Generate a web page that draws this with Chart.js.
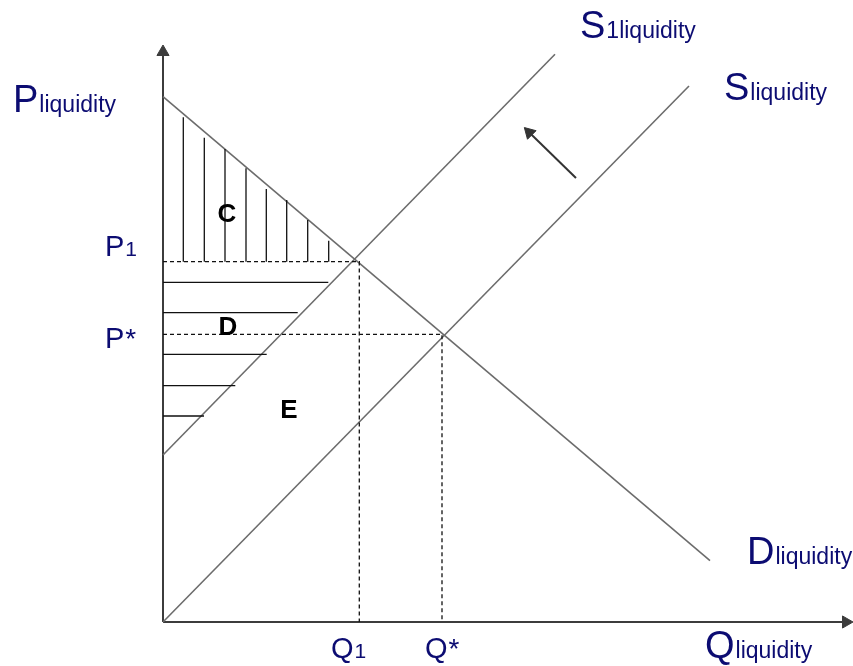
<!DOCTYPE html>
<html>
<head>
<meta charset="utf-8">
<script src="https://cdn.jsdelivr.net/npm/chart.js@4.4.1/dist/chart.umd.min.js"></script>
<style>
  html, body { margin: 0; padding: 0; background: #ffffff; }
  #liquidityChart { display: block; }
</style>
</head>
<body>
<canvas id="liquidityChart" width="853" height="666"></canvas>
<script>
// quantity (x) / price (y) in chart units
var demandQ  = [0, 547];
var demandP  = [525.3, 61.3];
var supplyQ  = [0, 526];
var supplyP  = [0, 536];
var supply1Q = [0, 392];
var supply1P = [167, 567.7];

// equilibria: [Q1, Q*] and [P1, P*]
var eqQ = [196.3, 279];
var eqP = [360.3, 287.7];

// hatching of area C (vertical strokes) and area D (horizontal strokes)
var hatchCX   = [20.3, 41.3, 62, 83, 103.3, 123.7, 144.7, 165.7];
var hatchCTop = [504.7, 484.3, 473, 453.7, 433, 422, 402, 381.3];
var hatchDY   = [339.7, 309.3, 267.7, 236.3, 206];
var hatchDEnd = [165.3, 134.7, 103.7, 72.3, 41];

// shift arrow (tail -> head) and axis ends
var shiftQ = [413, 366.3];
var shiftP = [444, 489.5];
var axisQMax = 683;
var axisPMax = 570;

// labels: main letter, subscript, anchor in chart units
var curveLabels = [
	{ main: 'P', sub: 'liquidity',  q: -150, p: 510 },
	{ main: 'S', sub: '1liquidity', q: 417,  p: 584 },
	{ main: 'S', sub: 'liquidity',  q: 561,  p: 522 },
	{ main: 'D', sub: 'liquidity',  q: 584,  p: 58 },
	{ main: 'Q', sub: 'liquidity',  q: 542,  p: -36 }
];
var tickLabels = [
	{ main: 'P', sub: '1', q: -58, p: 366 },
	{ main: 'P', sub: '*', q: -58, p: 274 },
	{ main: 'Q', sub: '1', q: 168, p: -36 },
	{ main: 'Q', sub: '*', q: 262, p: -36 }
];
var areaLabels = [
	{ text: 'C', q: 64,  p: 407 },
	{ text: 'D', q: 65,  p: 294 },
	{ text: 'E', q: 126, p: 211 }
];

function pts(xs, ys) {
	var out = [];
	for (var i = 0; i < xs.length; i++) { out.push({ x: xs[i], y: ys[i] }); }
	return out;
}

var vHatch = [];
for (var i in hatchCX) {
	vHatch.push({ x: hatchCX[i], y: eqP[0] });
	vHatch.push({ x: hatchCX[i], y: hatchCTop[i] });
	vHatch.push({ x: hatchCX[i], y: null });
}
var hHatch = [];
for (var j in hatchDY) {
	hHatch.push({ x: 0, y: hatchDY[j] });
	hHatch.push({ x: hatchDEnd[j], y: hatchDY[j] });
	hHatch.push({ x: hatchDEnd[j], y: null });
}

var navy = '#0c0c72';
var textPlugin = {
	id: 'diagramText',
	afterDatasetsDraw: function (chart) {
		var ctx = chart.ctx;
		var xs = chart.scales.x, ys = chart.scales.y;
		ctx.save();
		ctx.fillStyle = navy;
		ctx.textBaseline = 'alphabetic';
		ctx.textAlign = 'left';
		curveLabels.forEach(function (l) {
			var px = xs.getPixelForValue(l.q), py = ys.getPixelForValue(l.p);
			ctx.font = '38px "Liberation Sans", Arial, sans-serif';
			ctx.fillText(l.main, px, py);
			var w = ctx.measureText(l.main).width;
			ctx.font = '23px "Liberation Sans", Arial, sans-serif';
			ctx.fillText(l.sub, px + w + 1, py);
		});
		tickLabels.forEach(function (l) {
			var px = xs.getPixelForValue(l.q), py = ys.getPixelForValue(l.p);
			ctx.font = '29px "Liberation Sans", Arial, sans-serif';
			ctx.fillText(l.main, px, py);
			var w = ctx.measureText(l.main).width;
			ctx.font = (l.sub === '*' ? '28px' : '21px') + ' "Liberation Sans", Arial, sans-serif';
			ctx.fillText(l.sub, px + w + 1, py);
		});
		ctx.fillStyle = '#000000';
		ctx.textAlign = 'center';
		ctx.textBaseline = 'middle';
		ctx.font = 'bold 26px "Liberation Sans", Arial, sans-serif';
		areaLabels.forEach(function (l) {
			ctx.fillText(l.text, xs.getPixelForValue(l.q), ys.getPixelForValue(l.p));
		});
		ctx.restore();
	}
};

function arrowSet(data, color, width, rotation) {
	return {
		data: data, borderColor: color, backgroundColor: color, borderWidth: width,
		pointRadius: function (c) { return c.dataIndex === data.length - 1 ? 7 : 0; },
		pointStyle: 'triangle', pointRotation: rotation,
		pointBorderWidth: 1, clip: false
	};
}
function lineSet(data, color, width, dash) {
	return {
		data: data, borderColor: color, borderWidth: width, borderDash: dash || [],
		pointRadius: 0, spanGaps: false, clip: false
	};
}

new Chart(document.getElementById('liquidityChart'), {
	type: 'line',
	data: {
		datasets: [
			lineSet(vHatch, '#111111', 1.3),
			lineSet(hHatch, '#111111', 1.3),
			lineSet([{ x: 0, y: eqP[0] }, { x: eqQ[0], y: eqP[0] }, { x: eqQ[0], y: 0 }], '#111111', 1.3, [4, 3]),
			lineSet([{ x: 0, y: eqP[1] }, { x: eqQ[1], y: eqP[1] }, { x: eqQ[1], y: 0 }], '#111111', 1.3, [4, 3]),
			lineSet(pts(demandQ, demandP), '#6c6c6c', 1.6),
			lineSet(pts(supplyQ, supplyP), '#6c6c6c', 1.6),
			lineSet(pts(supply1Q, supply1P), '#6c6c6c', 1.6),
			arrowSet(pts(shiftQ, shiftP), '#333333', 2, -45),
			arrowSet([{ x: 0, y: 0 }, { x: 0, y: axisPMax }], '#3c3c3c', 2, 0),
			arrowSet([{ x: 0, y: 0 }, { x: axisQMax, y: 0 }], '#3c3c3c', 2, 90)
		]
	},
	options: {
		responsive: false,
		animation: false,
		devicePixelRatio: 1,
		layout: { autoPadding: false, padding: { left: 163, right: 0, top: 45, bottom: 44 } },
		scales: {
			x: { type: 'linear', min: 0, max: 690, display: false },
			y: { type: 'linear', min: 0, max: 577, display: false }
		},
		elements: { line: { tension: 0 } },
		plugins: { legend: { display: false }, tooltip: { enabled: false } }
	},
	plugins: [textPlugin]
});
</script>
</body>
</html>
